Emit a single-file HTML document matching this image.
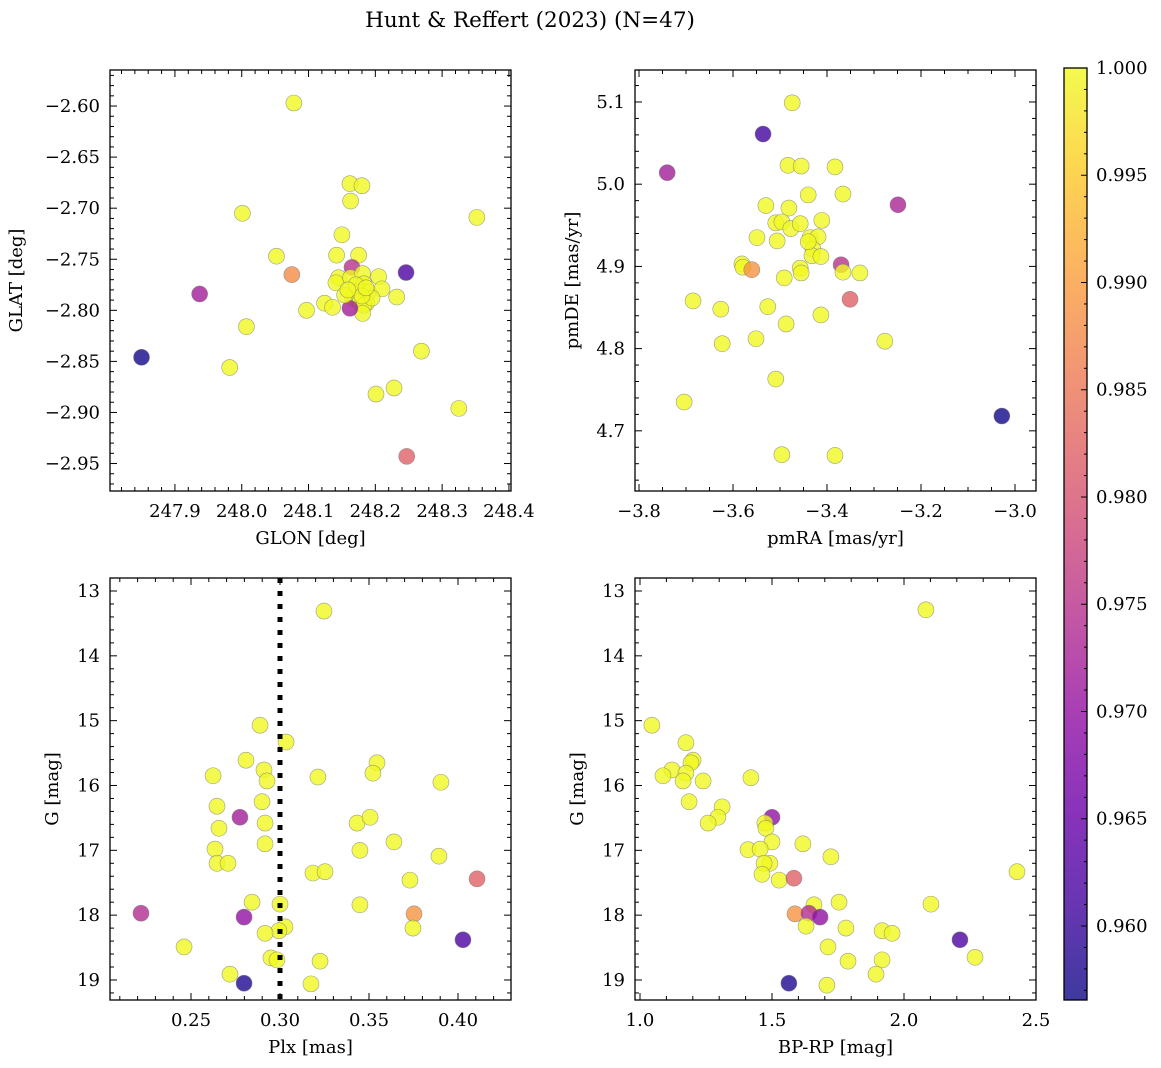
<!DOCTYPE html>
<html><head><meta charset="utf-8">
<style>
html,body{margin:0;padding:0;background:#fff;}
svg{display:block;font-family:"DejaVu Serif","Liberation Serif",serif;}
</style></head>
<body>
<svg id="fig" width="1161" height="1068" viewBox="0 0 1161 1068" xmlns="http://www.w3.org/2000/svg">
<defs>
<linearGradient id="plasmaGrad" x1="0" y1="1" x2="0" y2="0">
<stop offset="0" stop-color="#0d0887"/><stop offset="0.1" stop-color="#41049d"/><stop offset="0.2" stop-color="#6a00a8"/><stop offset="0.3" stop-color="#8f0da4"/><stop offset="0.4" stop-color="#b12a90"/><stop offset="0.5" stop-color="#cc4778"/><stop offset="0.6" stop-color="#e16462"/><stop offset="0.7" stop-color="#f2844b"/><stop offset="0.8" stop-color="#fca636"/><stop offset="0.9" stop-color="#fcce25"/><stop offset="1" stop-color="#f0f921"/>
</linearGradient>
</defs>
<text x="530" y="27" text-anchor="middle" font-size="21.5">Hunt &amp; Reffert (2023) (N=47)</text>
</svg>
<script>
// ---- Panel 1: GLON / GLAT ----
const glon = [248.162,248.180,248.163,248.150,248.142,248.175,248.165,248.246,248.075,248.145,248.141,248.163,248.181,248.205,248.183,248.190,248.210,248.232,248.172,248.166,248.177,248.187,248.183,248.181,248.162,248.124,248.136,248.097,248.078,248.001,248.352,248.052,247.937,247.850,247.982,248.007,248.201,248.228,248.269,248.325,248.247,248.154,248.195,248.171,248.180,248.159,248.186];
const glat = [-2.676,-2.678,-2.693,-2.726,-2.746,-2.746,-2.758,-2.763,-2.765,-2.768,-2.773,-2.768,-2.764,-2.767,-2.774,-2.782,-2.779,-2.787,-2.782,-2.788,-2.792,-2.793,-2.795,-2.803,-2.798,-2.793,-2.797,-2.800,-2.597,-2.705,-2.709,-2.747,-2.784,-2.846,-2.856,-2.816,-2.882,-2.876,-2.840,-2.896,-2.943,-2.785,-2.788,-2.775,-2.786,-2.780,-2.778];
const probPos = [1,1,1,1,1,1,0.975,0.962,0.988,1,1,1,1,1,1,1,1,1,1,1,1,1,1,1,0.972,1,1,1,1,1,1,1,0.972,0.957,1,1,1,1,1,1,0.982,1,1,1,1,1,1];
// ---- Panel 2: proper motions ----
const pmra = [-3.474,-3.536,-3.740,-3.483,-3.455,-3.383,-3.366,-3.440,-3.530,-3.481,-3.249,-3.411,-3.509,-3.496,-3.477,-3.457,-3.549,-3.506,-3.436,-3.419,-3.430,-3.432,-3.413,-3.581,-3.579,-3.560,-3.457,-3.455,-3.370,-3.366,-3.330,-3.491,-3.685,-3.351,-3.626,-3.526,-3.413,-3.551,-3.277,-3.623,-3.487,-3.509,-3.704,-3.028,-3.496,-3.383,-3.440];
const pmde = [5.099,5.061,5.014,5.023,5.022,5.021,4.988,4.987,4.974,4.971,4.975,4.956,4.953,4.954,4.946,4.952,4.935,4.931,4.935,4.936,4.921,4.913,4.912,4.903,4.899,4.896,4.898,4.892,4.902,4.893,4.892,4.886,4.858,4.860,4.848,4.851,4.841,4.812,4.809,4.806,4.830,4.763,4.735,4.718,4.671,4.670,4.930];
const probPm = [1,0.961,0.972,1,1,1,1,1,1,1,0.973,1,1,1,1,1,1,1,1,1,1,1,1,1,1,0.989,1,1,0.975,1,1,1,1,0.982,1,1,1,1,1,1,1,1,1,0.957,1,1,1];
// ---- Panel 3: parallax vs G ----
const plx = [0.3247,0.2888,0.3034,0.2809,0.3545,0.2624,0.2910,0.2927,0.3213,0.3522,0.3904,0.2646,0.2899,0.2775,0.2657,0.2916,0.3433,0.3506,0.3640,0.2635,0.2916,0.3449,0.3893,0.2646,0.2708,0.3185,0.3253,0.3730,0.2843,0.3000,0.3449,0.2798,0.3753,0.3028,0.2994,0.2916,0.3747,0.2949,0.2983,0.3225,0.2719,0.2798,0.3174,0.2219,0.2461,0.4107,0.4028];
const gPlx = [13.31,15.07,15.33,15.61,15.65,15.85,15.76,15.93,15.87,15.81,15.95,16.32,16.25,16.49,16.66,16.58,16.58,16.49,16.87,16.98,16.90,17.00,17.09,17.20,17.20,17.35,17.33,17.46,17.80,17.83,17.84,18.03,17.98,18.18,18.24,18.28,18.20,18.66,18.69,18.71,18.91,19.05,19.06,17.97,18.49,17.44,18.38];
const probPlx = [1,1,1,1,1,1,1,1,1,1,1,1,1,0.972,1,1,1,1,1,1,1,1,1,1,1,1,1,1,1,1,1,0.970,0.989,1,1,1,1,1,1,1,1,0.958,1,0.974,1,0.982,0.962];
const plxRef = 0.30;
// ---- Panel 4: CMD ----
const bprp = [1.045,1.174,1.201,1.193,1.121,1.087,1.174,1.163,1.239,1.420,1.186,1.311,1.295,1.258,1.500,1.473,1.477,1.500,1.617,1.723,1.409,1.455,1.492,1.470,1.462,1.527,1.583,2.428,1.659,1.754,2.102,1.587,1.640,1.682,1.629,1.780,1.917,1.955,2.212,1.712,2.269,1.788,1.917,1.894,1.564,1.708,2.083];
const gCmd = [15.07,15.34,15.61,15.65,15.76,15.85,15.81,15.93,15.93,15.88,16.25,16.33,16.49,16.58,16.49,16.58,16.66,16.87,16.90,17.10,16.99,16.98,17.20,17.20,17.37,17.46,17.43,17.33,17.84,17.80,17.83,17.98,17.97,18.03,18.17,18.20,18.24,18.28,18.38,18.49,18.65,18.71,18.69,18.91,19.05,19.08,13.29];
const probCmd = [1,1,1,1,1,1,1,1,1,1,1,1,1,1,0.970,1,1,1,1,1,1,1,1,1,1,1,0.982,1,1,1,1,0.989,0.974,0.970,1,1,1,1,0.962,1,1,1,1,1,0.958,1,1];
// ---- tick labels ----
const ticksGlon = ["247.9","248.0","248.1","248.2","248.3","248.4"];
const ticksGlat = ["-2.60","-2.65","-2.70","-2.75","-2.80","-2.85","-2.90","-2.95"];
const ticksPmra = ["-3.8","-3.6","-3.4","-3.2","-3.0"];
const ticksPmde = ["4.7","4.8","4.9","5.0","5.1"];
const ticksPlx = ["0.25","0.30","0.35","0.40"];
const ticksG = ["13","14","15","16","17","18","19"];
const ticksBprp = ["1.0","1.5","2.0","2.5"];
const ticksCbar = ["0.960","0.965","0.970","0.975","0.980","0.985","0.990","0.995","1.000"];
const cMin = 0.95655, cMax = 1.0;

const FS = 18;
const NS = "http://www.w3.org/2000/svg";
const svg = document.getElementById('fig');
function mk(tag, attrs, parent){ const e=document.createElementNS(NS,tag); for(const k in attrs) e.setAttribute(k,attrs[k]); (parent||svg).appendChild(e); return e; }
const stops=[[0,[13,8,135]],[0.1,[65,4,157]],[0.2,[106,0,168]],[0.3,[143,13,164]],[0.4,[177,42,144]],[0.5,[204,71,120]],[0.6,[225,100,98]],[0.7,[242,132,75]],[0.8,[252,166,54]],[0.9,[252,206,37]],[1,[240,249,33]]];
function plasma(t){ t=Math.max(0,Math.min(1,t)); for(let i=1;i<stops.length;i++){ if(t<=stops[i][0]){ const a=stops[i-1],b=stops[i]; const f=(t-a[0])/(b[0]-a[0]); const c=a[1].map((v,j)=>Math.round(v+(b[1][j]-v)*f)); return `rgb(${c[0]},${c[1]},${c[2]})`; } } return 'rgb(240,249,33)'; }
function fmt(s){ return s.replace('-','\u2212'); }

function panel(o){
  const g = mk('g',{});
  
  
  const L=o.box[0],T=o.box[1],R=o.box[2],B=o.box[3];
  const sx = v => L + (v-o.xr[0])/(o.xr[1]-o.xr[0])*(R-L);
  const sy = o.yinv ? (v => T + (v-o.yr[0])/(o.yr[1]-o.yr[0])*(B-T)) : (v => B - (v-o.yr[0])/(o.yr[1]-o.yr[0])*(B-T));
  const tg = mk('g',{stroke:'#000','stroke-width':1},g);
  
  
  const eps=1e-9;
  for(let v=Math.ceil(o.xr[0]/o.xmin-eps)*o.xmin; v<=o.xr[1]+eps; v+=o.xmin){
    const maj = Math.abs(v/o.xmaj - Math.round(v/o.xmaj))<1e-4; const len=maj?7:4; const x=sx(v);
    mk('line',{x1:x,x2:x,y1:B,y2:B-len},tg); mk('line',{x1:x,x2:x,y1:T,y2:T+len},tg);
  }
  const ylo=Math.min(o.yr[0],o.yr[1]), yhi=Math.max(o.yr[0],o.yr[1]);
  for(let v=Math.ceil(ylo/o.ymin-eps)*o.ymin; v<=yhi+eps; v+=o.ymin){
    const maj = Math.abs(v/o.ymaj - Math.round(v/o.ymaj))<1e-4; const len=maj?7:4; const y=sy(v);
    mk('line',{x1:L,x2:L+len,y1:y,y2:y},tg); mk('line',{x1:R,x2:R-len,y1:y,y2:y},tg);
  }
  o.xt.forEach(s=>{ const t=mk('text',{x:sx(parseFloat(s)),y:B+26,'text-anchor':'middle','font-size':FS},g); t.textContent=fmt(s);
      });
  o.yt.forEach(s=>{ const t=mk('text',{x:L-10,y:sy(parseFloat(s))+6,'text-anchor':'end','font-size':FS},g); t.textContent=fmt(s);
      });
  const xl=mk('text',{x:(L+R)/2,y:B+53,'text-anchor':'middle','font-size':FS},g); xl.textContent=o.xlabel;
   
  const yx=o.ylabx, yy=(T+B)/2;
  const yl=mk('text',{x:yx,y:yy,'text-anchor':'middle','font-size':FS,transform:`rotate(-90 ${yx} ${yy})`},g); yl.textContent=o.ylabel;
   
  const clip='clip'+o.name; const cp=mk('clipPath',{id:clip},g); mk('rect',{x:L,y:T,width:R-L,height:B-T},cp);
  const pg=mk('g',{'clip-path':`url(#${clip})`},g);
  o.xs.forEach((xv,i)=>{ const c=mk('circle',{cx:sx(xv),cy:sy(o.ys[i]),r:8,fill:plasma((o.ps[i]-cMin)/(cMax-cMin)),'fill-opacity':0.8,stroke:'#777','stroke-opacity':0.7,'stroke-width':0.6},pg);
      });
  if(o.vline!==undefined){ const l=mk('line',{x1:sx(o.vline),x2:sx(o.vline),y1:T,y2:B,stroke:'#000','stroke-width':5,'stroke-dasharray':'5 8'},pg);
      }
  const fr=mk('rect',{x:L,y:T,width:R-L,height:B-T,fill:'none',stroke:'#000','stroke-width':1.3},g);
   
}

panel({name:'panel-position',box:[110,70,511,491],xr:[247.8028,248.4031],yr:[-2.9769,-2.5647],xmaj:0.1,xmin:0.02,ymaj:0.05,ymin:0.01,xt:ticksGlon,yt:ticksGlat,xs:glon,ys:glat,ps:probPos,xlabel:'GLON [deg]',ylabel:'GLAT [deg]',ylabx:22});
panel({name:'panel-proper-motion',box:[635,70,1036,491],xr:[-3.8085,-2.9553],yr:[4.6268,5.1389],xmaj:0.2,xmin:0.05,ymaj:0.1,ymin:0.02,xt:ticksPmra,yt:ticksPmde,xs:pmra,ys:pmde,ps:probPm,xlabel:'pmRA [mas/yr]',ylabel:'pmDE [mas/yr]',ylabx:578});
panel({name:'panel-parallax',box:[110,578,511,1000],xr:[0.20449,0.42978],yr:[12.7995,19.3089],yinv:true,xmaj:0.05,xmin:0.01,ymaj:1,ymin:0.2,xt:ticksPlx,yt:ticksG,xs:plx,ys:gPlx,ps:probPlx,xlabel:'Plx [mas]',ylabel:'G [mag]',ylabx:58,vline:plxRef});
panel({name:'panel-cmd',box:[635,578,1036,1000],xr:[0.98106,2.5],yr:[12.7995,19.3089],yinv:true,xmaj:0.5,xmin:0.1,ymaj:1,ymin:0.2,xt:ticksBprp,yt:ticksG,xs:bprp,ys:gCmd,ps:probCmd,xlabel:'BP-RP [mag]',ylabel:'G [mag]',ylabx:583});

// colorbar
const cb=mk('g',{});


const cT=68,cB=1000,cL=1064,cR=1087;
mk('rect',{x:cL,y:cT,width:cR-cL,height:cB-cT,fill:'url(#plasmaGrad)','fill-opacity':0.8},cb);
const cy=v=>cB-(v-cMin)/(cMax-cMin)*(cB-cT);
for(let k=Math.ceil(cMin/0.001);k<=1000;k++){ const v=k/1000; const maj=k%5===0; const y=cy(v);
  mk('line',{x1:cR,x2:cR-(maj?6:3),y1:y,y2:y,stroke:'#000','stroke-width':1},cb); }
ticksCbar.forEach(s=>{ const t=mk('text',{x:cR+9,y:cy(parseFloat(s))+6,'font-size':FS},cb); t.textContent=s;
    });
mk('rect',{x:cL,y:cT,width:cR-cL,height:cB-cT,fill:'none',stroke:'#000','stroke-width':1.3},cb);
</script>
</body></html>
